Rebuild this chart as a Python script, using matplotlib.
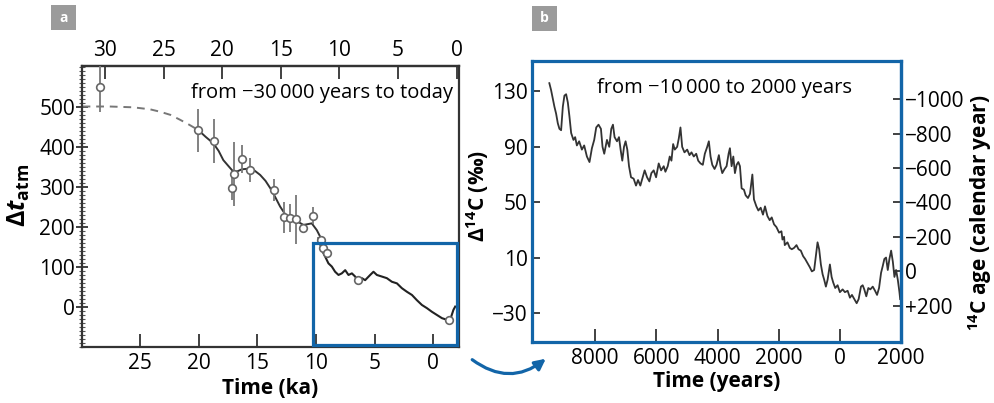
import matplotlib
matplotlib.use("Agg")
import matplotlib.pyplot as plt
from matplotlib.patches import Rectangle, FancyArrowPatch
from matplotlib.ticker import FixedLocator, FuncFormatter, MultipleLocator

plt.rcParams['font.family'] = ['Open Sans', 'DejaVu Sans']
plt.rcParams['mathtext.fontset'] = 'custom'
plt.rcParams['mathtext.rm'] = 'Open Sans'
plt.rcParams['mathtext.it'] = 'Open Sans:italic'
plt.rcParams['mathtext.bf'] = 'Open Sans:bold'
plt.rcParams['mathtext.bfit'] = 'Open Sans:bold:italic'

BLUE = '#1265a8'

# ---------------- Panel a data ----------------
a_pts_x = [28.4, 20.03, 18.66, 17.12, 16.95, 16.33, 15.6, 13.54, 12.69, 12.2, 11.72, 11.15, 10.27, 9.59, 9.37, 9.08, 6.4, -1.3]
a_pts_y = [550, 442, 416, 297, 332, 371, 342, 292, 224, 222, 219, 198, 228, 167, 147, 134, 68, -32]
a_pts_err = [62, 54, 55, 30, 80, 35, 30, 27, 38, 35, 62, 10, 21, 10, 8, 8, 6, 6]

a_dash_x = [29.9, 27.6, 25.6, 24.15, 23.3, 22.4, 21.6, 20.9, 20.03]
a_dash_y = [501, 501, 499, 494, 488, 480, 468, 457, 442]

a_fit_x = [20.03, 19.4, 18.75, 18.3, 17.9, 17.4, 17.04, 16.7, 16.33, 15.6, 15.2, 14.76, 14.3, 13.9, 13.5,
           13.06, 12.5, 11.78, 11.07, 10.7, 10.36, 9.93, 9.65, 9.22]
a_fit_y = [442, 425, 409, 390, 367, 350, 338, 339, 344, 346, 340, 330, 315, 297, 276,
           251, 226, 217, 205, 207, 209, 192, 176, 151]

a_noise_x = [9.79, 9.5, 9.22, 8.94, 8.65, 8.37, 8.08, 7.8, 7.51, 7.23, 6.94, 6.66, 6.38, 6.09, 5.81,
             5.38, 5.1, 4.81, 4.38, 3.96, 3.53, 3.1, 2.68, 2.25, 1.82, 1.4, 0.97, 0.54, 0.12,
             -0.31, -0.74, -1.16, -1.44, -1.72, -1.87]
a_noise_y = [172, 142, 126, 109, 101, 88, 80, 84, 92, 80, 84, 76, 63, 72, 67,
             80, 88, 80, 76, 72, 63, 59, 47, 38, 30, 17, 5, -3, -12,
             -20, -28, -32, -32, -7, 1]

a_bottom_ticks = [25, 20, 15, 10, 5, 0]
a_top_ticks = [30, 25, 20, 15, 10, 5, 0]
a_left_ticks = [0, 100, 200, 300, 400, 500]

# ---------------- Panel b data ----------------
b_year = [-9500, -9443, -9388, -9334, -9279, -9223, -9170, -9115, -9059, -9007, -8951, -8895, -8843, -8787,
          -8712, -8656, -8600, -8525, -8436, -8361, -8272, -8187, -8108, -8033, -7967, -7892, -7813, -7761,
          -7705, -7616, -7541, -7475, -7420, -7367, -7288, -7223, -7170, -7115, -7059, -7007, -6951, -6895,
          -6829, -6744, -6666, -6600, -6525, -6449, -6383, -6305, -6229, -6164, -6088, -6010, -5924, -5846,
          -5760, -5705, -5629, -5564, -5508, -5452, -5399, -5321, -5268, -5213, -5157, -5082, -4993, -4918,
          -4852, -4777, -4698, -4633, -4557, -4482, -4416, -4338, -4285, -4229, -4173, -4098, -4033, -3957,
          -3902, -3846, -3770, -3705, -3639, -3596, -3541, -3485, -3432, -3377, -3321, -3268, -3213, -3137,
          -3082, -3006, -2940, -2862, -2810, -2731, -2666, -2590, -2515, -2449, -2370, -2295, -2229, -2153,
          -2075, -1989, -1911, -1878, -1825, -1803, -1714, -1639, -1573, -1497, -1419, -1353, -1278, -1202,
          -1137, -1058, -983, -917, -842, -786, -731, -678, -622, -566, -514, -458, -402, -327, -271, -219,
          -153, -75, 0, 89, 164, 253, 328, 394, 470, 548, 613, 689, 745, 797, 863, 929, 995, 1074, 1149,
          1215, 1280, 1346, 1402, 1454, 1509, 1565, 1619, 1675, 1731, 1783, 1837, 1893, 1947, 1970]
b_d14c = [136, 131, 125, 119, 114, 107, 103, 102, 119, 127, 128, 122, 112, 100,
          95, 97, 91, 94, 88, 91, 83, 79, 89, 95, 104, 106, 103, 90,
          85, 95, 90, 103, 106, 97, 94, 97, 88, 80, 90, 94, 88, 76,
          68, 67, 62, 66, 62, 68, 73, 68, 65, 71, 73, 68, 78, 73,
          76, 72, 76, 83, 80, 92, 88, 90, 96, 104, 90, 86, 88, 84,
          86, 83, 85, 80, 78, 77, 85, 90, 94, 83, 77, 74, 77, 84,
          76, 71, 74, 76, 85, 89, 76, 83, 71, 77, 79, 76, 60, 59,
          55, 53, 56, 70, 52, 47, 44, 46, 41, 47, 40, 37, 39, 34,
          32, 28, 29, 23, 25, 19, 21, 17, 16, 17, 19, 16, 15, 11,
          9, 6, 3, 0, 1, 11, 21, 16, 5, -2, -6, -11, -6, 5, -4, -8,
          -12, -10, -15, -13, -15, -14, -19, -17, -20, -23, -20, -11, -10, -13, -18, -12, -13, -11, -14,
          -17, -12, -1, 4, 9, 10, 1, 9, 15, 7, -4, 1, -6, -15, -20]

b_bottom_ticks = [-8000, -6000, -4000, -2000, 0, 2000]
b_left_ticks = [-30, 10, 50, 90, 130]
b_right_ticks = [-1000, -800, -600, -400, -200, 0, 200]

# ---------------- Figure ----------------
fig = plt.figure(figsize=(9.95, 4.03), dpi=100)
FS = 15
TFS = 14.5

# Panel a
ax = fig.add_axes([0.0824, 0.139, 0.379, 0.697])
ax.set_xlim(29.95, -2.2)
ax.set_ylim(-100, 602)
for s in ax.spines.values():
    s.set_color('#333333')
    s.set_linewidth(1.6)

ax.plot(a_dash_x, a_dash_y, color='#777777', lw=1.4, ls=(0, (4, 3)))
ax.plot(a_fit_x, a_fit_y, color='#333333', lw=1.4)
ax.plot(a_noise_x, a_noise_y, color='#222222', lw=1.5)
ax.errorbar(a_pts_x, a_pts_y, yerr=a_pts_err, fmt='o', ms=5.5, mfc='white', mec='#666666',
            mew=1.2, ecolor='#777777', elinewidth=1.3, capsize=0, zorder=3)

ax.add_patch(Rectangle((-2.05, -95), 12.3, 255, fill=False, ec=BLUE, lw=2.3, zorder=4, clip_on=False))

ax.xaxis.set_major_locator(FixedLocator(a_bottom_ticks))
ax.yaxis.set_major_locator(FixedLocator(a_left_ticks))
ax.yaxis.set_minor_locator(MultipleLocator(10))
ax.tick_params(axis='x', which='both', direction='in', length=9.5, width=1.3, labelsize=FS, pad=4,
               top=False, color='#333333')
ax.tick_params(axis='y', which='major', direction='inout', length=8, width=1.3, labelsize=FS, pad=1,
               color='#333333')
ax.tick_params(axis='y', which='minor', direction='inout', length=4, width=0.8, color='#555555')
ax.set_xlabel('Time (ka)', fontsize=FS, fontweight='bold', labelpad=3)
ax.set_ylabel(r'$\mathbf{\Delta}\mathbfit{t}_{\mathbf{atm}}$', fontsize=FS + 3, labelpad=5, y=0.54)

sec = ax.secondary_xaxis('top', functions=(lambda x: x + 2, lambda x: x - 2))
sec.xaxis.set_major_locator(FixedLocator(a_top_ticks))
sec.tick_params(direction='in', length=9.5, width=1.3, labelsize=FS, pad=4, color='#333333')
sec.spines['top'].set_color('#333333')
sec.spines['top'].set_linewidth(1.6)

ax.text(0.984, 0.905, 'from \u221230\u2009000 years to today', transform=ax.transAxes,
        ha='right', va='center', fontsize=TFS)

# Panel b
bx = fig.add_axes([0.5347, 0.1514, 0.3709, 0.6972])
bx.set_xlim(-10066, 2000)
bx.set_ylim(-51, 152)
for s in bx.spines.values():
    s.set_color(BLUE)
    s.set_linewidth(2.3)
bx.plot(b_year, b_d14c, color='#333333', lw=1.3)
bx.xaxis.set_major_locator(FixedLocator(b_bottom_ticks))
bx.xaxis.set_major_formatter(FuncFormatter(lambda v, p: f'{abs(int(v))}'))
bx.yaxis.set_major_locator(FixedLocator(b_left_ticks))
bx.yaxis.set_major_formatter(FuncFormatter(lambda v, p: f'{int(v)}'.replace('-', '\u2212')))
bx.tick_params(axis='x', direction='in', length=9.5, width=1.3, labelsize=FS, pad=4, color='#333333')
bx.tick_params(axis='y', direction='in', length=5.5, width=1.3, labelsize=FS, pad=3, color='#333333')
bx.set_xlabel('Time (years)', fontsize=FS, fontweight='bold', labelpad=2)
bx.set_ylabel(r'$\mathbf{\Delta^{14}C}$ (‰)', fontsize=FS, fontweight='bold', labelpad=1, y=0.52)

secy = bx.secondary_yaxis('right', functions=(lambda d: -8.03 * d, lambda a: -a / 8.03))
secy.yaxis.set_major_locator(FixedLocator(b_right_ticks))


def fmt_age(v, p):
    v = int(round(v))
    if v > 0:
        return f'+{v}'
    if v < 0:
        return f'\u2212{abs(v)}'
    return '0'


secy.yaxis.set_major_formatter(FuncFormatter(fmt_age))
secy.tick_params(direction='in', length=6, width=1.3, labelsize=FS, pad=3, color='#333333')
secy.spines['right'].set_color(BLUE)
secy.spines['right'].set_linewidth(2.3)
secy.set_ylabel(r'$\mathbf{^{14}}$C age (calendar year)', fontsize=FS, fontweight='bold', labelpad=1, y=0.46)

bx.text(0.176, 0.905, 'from \u221210\u2009000 to 2000 years', transform=bx.transAxes,
        ha='left', va='center', fontsize=TFS)

# panel letters
for (px, py, lab) in [(51, 5, 'a'), (532, 6, 'b')]:
    x0 = px / 995
    y0 = 1 - (py + 25) / 403
    fig.patches.append(Rectangle((x0, y0), 25 / 995, 25 / 403, transform=fig.transFigure,
                                 fc='#9b9b9b', ec='none'))
    fig.text(x0 + 12.5 / 995, y0 + 12.5 / 403, lab, color='white', fontsize=10, fontweight='bold',
             ha='center', va='center')

# arrow
arr = FancyArrowPatch((470 / 995, 1 - 358 / 403), (548 / 995, 1 - 357 / 403), transform=fig.transFigure,
                      connectionstyle='arc3,rad=0.4', arrowstyle='-|>', mutation_scale=16,
                      color=BLUE, lw=2.3)
fig.patches.append(arr)

fig.savefig('out.png', dpi=100)
